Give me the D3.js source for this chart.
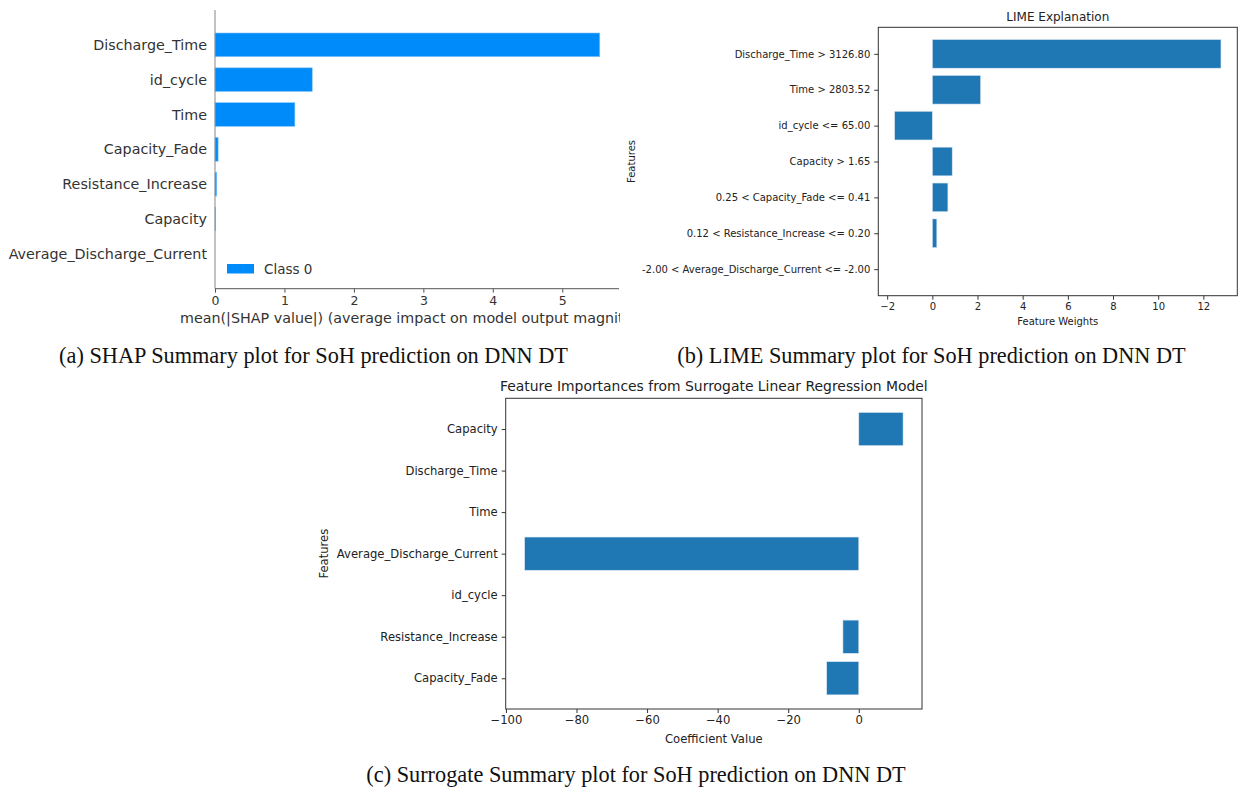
<!DOCTYPE html>
<html>
<head>
<meta charset="utf-8">
<script src="https://cdn.jsdelivr.net/npm/d3@7"></script>
<style>
  html, body { margin: 0; padding: 0; background: #fff; }
  svg { display: block; }
  .mpl text { font-family: "DejaVu Sans", sans-serif; }
  .caption { font-family: "Liberation Serif", "Times New Roman", serif; fill: #111; }
</style>
</head>
<body>
<svg id="fig" width="1240" height="791"></svg>
<script>
// ---- (a) SHAP mean |value| per feature ----
const shapFeatures = ["Discharge_Time", "id_cycle", "Time", "Capacity_Fade",
  "Resistance_Increase", "Capacity", "Average_Discharge_Current"];
const shapValues = [5.54, 1.40, 1.15, 0.045, 0.025, 0.008, 0.0];
const shapTicks = [0, 1, 2, 3, 4, 5];

// ---- (b) LIME rule weights ----
const limeRules = ["Discharge_Time > 3126.80", "Time > 2803.52", "id_cycle <= 65.00",
  "Capacity > 1.65", "0.25 < Capacity_Fade <= 0.41",
  "0.12 < Resistance_Increase <= 0.20", "-2.00 < Average_Discharge_Current <= -2.00"];
const limeWeights = [12.78, 2.14, -1.67, 0.88, 0.69, 0.20, 0.0];
const limeTicks = [-2, 0, 2, 4, 6, 8, 10, 12];

// ---- (c) surrogate linear regression coefficients ----
const surrFeatures = ["Capacity", "Discharge_Time", "Time", "Average_Discharge_Current",
  "id_cycle", "Resistance_Increase", "Capacity_Fade"];
const surrCoefs = [12.55, 0.0, 0.0, -94.7, 0.0, -4.5, -9.1];
const surrTicks = [-100, -80, -60, -40, -20, 0];

const captions = [
  "(a) SHAP Summary plot for SoH prediction on DNN DT",
  "(b) LIME Summary plot for SoH prediction on DNN DT",
  "(c) Surrogate Summary plot for SoH prediction on DNN DT"
];

const svg = d3.select("#fig");
svg.append("rect").attr("width", 1240).attr("height", 791).attr("fill", "#fff");

const fmt = d3.format("d"); // d3 v7 uses the unicode minus sign

// matplotlib-style autoscaling: 5% padding around the bar extent (0 included)
function paddedDomain(values) {
  const lo = Math.min(0, d3.min(values)), hi = Math.max(0, d3.max(values));
  const pad = 0.05 * (hi - lo);
  return [lo - pad, hi + pad];
}

// =============== (a) SHAP bar summary ===============
(function () {
  const g = svg.append("g").attr("class", "mpl");
  const left = 215, right = 619, top = 10, bottom = 288.7;
  const x = d3.scaleLinear().domain([0, d3.max(shapValues) * 1.05]).range([left, right]);
  const y = d3.scaleLinear().domain([-1, shapFeatures.length]).range([top, bottom]);
  const bh = (y(1) - y(0)) * 0.68;

  g.selectAll("rect.bar").data(shapValues).join("rect")
    .attr("class", "bar")
    .attr("x", x(0))
    .attr("y", (d, i) => y(i) - bh / 2)
    .attr("width", d => Math.max(0, x(d) - x(0)))
    .attr("height", bh)
    .attr("fill", "#008bfb")
    .attr("stroke", "#86c6fb").attr("stroke-width", 0.6);

  // y labels, no tick marks
  const ya = g.append("g").attr("transform", `translate(${left},0)`)
    .call(d3.axisLeft(y).tickValues(d3.range(shapFeatures.length))
      .tickFormat(i => shapFeatures[i]).tickSize(0).tickPadding(8));
  ya.select(".domain").remove();
  ya.selectAll("text").attr("font-size", 14.3).attr("fill", "#333");

  g.append("line").attr("x1", left).attr("x2", left).attr("y1", top).attr("y2", bottom)
    .attr("stroke", "#888").attr("stroke-width", 1);

  const xa = g.append("g").attr("transform", `translate(0,${bottom})`)
    .call(d3.axisBottom(x).tickValues(shapTicks).tickFormat(fmt).tickSize(4).tickPadding(3));
  xa.select(".domain").attr("stroke", "#555").attr("d", `M${left},0H${right}`);
  xa.selectAll(".tick line").attr("stroke", "#555");
  xa.selectAll("text").attr("font-size", 12.5).attr("fill", "#333");

  // x label, cut at the figure edge
  const clip = svg.append("clipPath").attr("id", "shapClip");
  clip.append("rect").attr("x", 0).attr("y", 300).attr("width", 620).attr("height", 40);
  g.append("text").attr("clip-path", "url(#shapClip)")
    .attr("x", 180).attr("y", 323).attr("font-size", 14.3).attr("fill", "#333")
    .text("mean(|SHAP value|) (average impact on model output magnitude)");

  // legend
  g.append("rect").attr("x", 227).attr("y", 264).attr("width", 27).attr("height", 9.5)
    .attr("fill", "#008bfb");
  g.append("text").attr("x", 264).attr("y", 273.5).attr("font-size", 13.5).attr("fill", "#333")
    .text("Class 0");
})();

// shared boxed barh panel (LIME / surrogate)
function boxedBarh(opt) {
  const g = svg.append("g").attr("class", "mpl");
  const { left, right, top, bottom, labels, values, ticks, fs } = opt;
  const x = d3.scaleLinear().domain(paddedDomain(values)).range([left, right]);
  const n = labels.length;
  const y = d3.scaleLinear().domain([-0.74, n - 1 + 0.74]).range([top, bottom]);
  const bh = (y(1) - y(0)) * 0.8;

  g.selectAll("rect.bar").data(values).join("rect")
    .attr("class", "bar")
    .attr("x", d => x(Math.min(0, d)))
    .attr("y", (d, i) => y(i) - bh / 2)
    .attr("width", d => Math.abs(x(d) - x(0)))
    .attr("height", bh)
    .attr("fill", "#1f77b4")
    .attr("stroke", "#dbe8f3").attr("stroke-width", 0.6);

  g.append("rect").attr("x", left).attr("y", top)
    .attr("width", right - left).attr("height", bottom - top)
    .attr("fill", "none").attr("stroke", "#333").attr("stroke-width", 1);

  const ya = g.append("g").attr("transform", `translate(${left},0)`)
    .call(d3.axisLeft(y).tickValues(d3.range(n)).tickFormat(i => labels[i])
      .tickSize(4).tickPadding(4));
  ya.select(".domain").remove();
  ya.selectAll(".tick line").attr("stroke", "#333");
  ya.selectAll("text").attr("font-size", fs).attr("fill", "#222");

  const xa = g.append("g").attr("transform", `translate(0,${bottom})`)
    .call(d3.axisBottom(x).tickValues(ticks).tickFormat(fmt).tickSize(4).tickPadding(3));
  xa.select(".domain").remove();
  xa.selectAll(".tick line").attr("stroke", "#333");
  xa.selectAll("text").attr("font-size", fs).attr("fill", "#222");

  g.append("text").attr("x", (left + right) / 2).attr("y", opt.titleY)
    .attr("text-anchor", "middle").attr("font-size", fs * 1.2).attr("fill", "#222")
    .text(opt.title);
  g.append("text").attr("x", (left + right) / 2).attr("y", opt.xlabelY)
    .attr("text-anchor", "middle").attr("font-size", fs).attr("fill", "#222")
    .text(opt.xlabel);
  g.append("text")
    .attr("transform", `translate(${opt.ylabelX},${(top + bottom) / 2}) rotate(-90)`)
    .attr("text-anchor", "middle").attr("font-size", fs).attr("fill", "#222")
    .text("Features");
}

// =============== (b) LIME ===============
boxedBarh({
  left: 878.3, right: 1237.3, top: 27.3, bottom: 295.7,
  labels: limeRules, values: limeWeights, ticks: limeTicks, fs: 10,
  title: "LIME Explanation", titleY: 20.5,
  xlabel: "Feature Weights", xlabelY: 325, ylabelX: 635
});

// =============== (c) Surrogate ===============
boxedBarh({
  left: 505.7, right: 922, top: 398.3, bottom: 709,
  labels: surrFeatures, values: surrCoefs, ticks: surrTicks, fs: 11.6,
  title: "Feature Importances from Surrogate Linear Regression Model", titleY: 391,
  xlabel: "Coefficient Value", xlabelY: 742.5, ylabelX: 327.5
});

// sub-figure captions
const capPos = [[313.5, 363], [931.5, 363], [636, 782]];
svg.selectAll("text.caption").data(captions).join("text")
  .attr("class", "caption")
  .attr("x", (d, i) => capPos[i][0]).attr("y", (d, i) => capPos[i][1])
  .attr("text-anchor", "middle").attr("font-size", 22.3)
  .text(d => d);
</script>
</body>
</html>
